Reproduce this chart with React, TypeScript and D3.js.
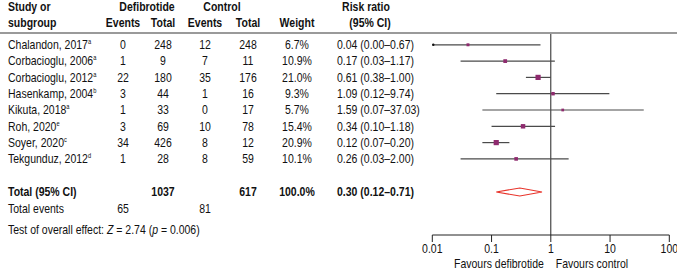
import React from "react";
import * as d3 from "d3";

const studies = ["Chalandon, 2017", "Corbacioglu, 2006", "Corbacioglu, 2012", "Hasenkamp, 2004", "Kikuta, 2018", "Roh, 2020", "Soyer, 2020", "Tekgunduz, 2012"];
const sups = ["a", "a", "a", "b", "a", "e", "c", "d"];
const defEvents = [0, 1, 22, 3, 1, 3, 34, 1];
const defTotal = [248, 9, 180, 44, 33, 69, 426, 28];
const ctlEvents = [12, 7, 35, 1, 0, 10, 8, 8];
const ctlTotal = [248, 11, 176, 16, 17, 78, 12, 59];
const weights = [6.7, 10.9, 21.0, 9.3, 5.7, 15.4, 20.9, 10.1];
const rr = [0.04, 0.17, 0.61, 1.09, 1.59, 0.34, 0.12, 0.26];
const rrLo = [0.0, 0.03, 0.38, 0.12, 0.07, 0.1, 0.07, 0.03];
const rrHi = [0.67, 1.17, 1.0, 9.74, 37.03, 1.18, 0.2, 2.0];
const totalRR = [0.3, 0.12, 0.71];
const totalDefTotal = 1037;
const totalCtlTotal = 617;
const totalWeight = "100.0%";
const totalDefEvents = 65;
const totalCtlEvents = 81;
const ticks = [0.01, 0.1, 1, 10, 100];

const FONT = "'Liberation Sans', Arial, Helvetica, sans-serif";
const SX = 0.875;

function T(props: { x: number; y: number; anchor?: string; bold?: boolean; children: React.ReactNode }) {
  return (
    <text
      transform={`translate(${props.x},${props.y}) scale(${SX},1)`}
      textAnchor={props.anchor || "start"}
      fontWeight={props.bold ? "bold" : "normal"}
    >
      {props.children}
    </text>
  );
}

export default function App() {
  const W = 677, H = 276;
  const x = d3.scaleLog().domain([0.01, 100]).range([432.3, 669.3]);
  const rowY = d3.scaleLinear().domain([0, 1]).range([44.8, 61.1]);
  const size = d3.scaleSqrt().domain([0, 21]).range([0, 5.2]);
  const fmt = (v: number) => v.toFixed(2);
  const axisY = 235;
  const totalY = 192;
  const colX = { study: 8, de: 123, dt: 163, ce: 205, ct: 248, w: 297, rr: 337 };
  const clamp = (v: number) => Math.max(0.01, Math.min(100, v));
  const diamond = d3.line<[number, number]>()([
    [x(totalRR[1]), totalY],
    [x(totalRR[0]), totalY - 4],
    [x(totalRR[2]), totalY],
    [x(totalRR[0]), totalY + 4],
    [x(totalRR[1]), totalY],
  ]) as string;
  const base = 4.3;

  return (
    <svg width={W} height={H} style={{ position: "absolute", left: 0, top: 0, background: "#fff" }} fontFamily={FONT} fontSize={12} fill="#111">
      {/* headers */}
      <T x={colX.study} y={11} bold>Study or</T>
      <T x={colX.study} y={27} bold>subgroup</T>
      <T x={147} y={11} anchor="middle" bold>Defibrotide</T>
      <T x={222} y={11} anchor="middle" bold>Control</T>
      <T x={colX.de} y={27} anchor="middle" bold>Events</T>
      <T x={colX.dt} y={27} anchor="middle" bold>Total</T>
      <T x={colX.ce} y={27} anchor="middle" bold>Events</T>
      <T x={colX.ct} y={27} anchor="middle" bold>Total</T>
      <T x={colX.w} y={27} anchor="middle" bold>Weight</T>
      <T x={366} y={11} anchor="middle" bold>Risk ratio</T>
      <T x={370} y={27} anchor="middle" bold>(95% CI)</T>
      <line x1={0} x2={W} y1={33} y2={33} stroke="#9a9a9a" strokeWidth={2} />

      {/* vertical reference line */}
      <line x1={x(1)} x2={x(1)} y1={34} y2={axisY} stroke="#222" strokeWidth={1} />

      {studies.map((s, i) => {
        const y = rowY(i);
        const ty = y + base;
        const sz = size(weights[i]);
        return (
          <g key={s}>
            <T x={colX.study} y={ty}>
              {s}
              <tspan fontSize={6.5} dy={-5}>{sups[i]}</tspan>
            </T>
            <T x={colX.de} y={ty} anchor="middle">{defEvents[i]}</T>
            <T x={colX.dt} y={ty} anchor="middle">{defTotal[i]}</T>
            <T x={colX.ce} y={ty} anchor="middle">{ctlEvents[i]}</T>
            <T x={colX.ct} y={ty} anchor="middle">{ctlTotal[i]}</T>
            <T x={colX.w} y={ty} anchor="middle">{weights[i].toFixed(1)}%</T>
            <T x={colX.rr} y={ty}>{`${fmt(rr[i])} (${fmt(rrLo[i])}–${fmt(rrHi[i])})`}</T>
            <line x1={x(clamp(rrLo[i]))} x2={x(clamp(rrHi[i]))} y1={y} y2={y} stroke="#4a4a4a" strokeWidth={1.2} />
            {rrLo[i] < 0.01 && <circle cx={x(0.01) + 1} cy={y} r={1.2} fill="#111" />}
            <rect x={x(rr[i]) - sz / 2} y={y - sz / 2} width={sz} height={sz} fill="#8e2a6e" />
          </g>
        );
      })}

      {/* total */}
      <T x={colX.study} y={totalY + base} bold>Total (95% CI)</T>
      <T x={colX.dt} y={totalY + base} anchor="middle" bold>{totalDefTotal}</T>
      <T x={colX.ct} y={totalY + base} anchor="middle" bold>{totalCtlTotal}</T>
      <T x={colX.w} y={totalY + base} anchor="middle" bold>{totalWeight}</T>
      <T x={colX.rr} y={totalY + base} bold>{`${fmt(totalRR[0])} (${fmt(totalRR[1])}–${fmt(totalRR[2])})`}</T>
      <path d={diamond} fill="#fff" stroke="#e8332a" strokeWidth={1.2} />
      <T x={colX.study} y={209 + base}>Total events</T>
      <T x={colX.de} y={209 + base} anchor="middle">{totalDefEvents}</T>
      <T x={colX.ce} y={209 + base} anchor="middle">{totalCtlEvents}</T>
      <T x={colX.study} y={230 + base}>
        Test of overall effect: <tspan fontStyle="italic">Z</tspan> = 2.74 (<tspan fontStyle="italic">p</tspan> = 0.006)
      </T>

      {/* axis */}
      <line x1={x(0.01)} x2={x(100)} y1={axisY} y2={axisY} stroke="#222" strokeWidth={1} />
      {ticks.map((t) => (
        <g key={t}>
          <line x1={x(t)} x2={x(t)} y1={axisY} y2={axisY + 7} stroke="#222" strokeWidth={1} />
          <T x={x(t)} y={axisY + 18} anchor="middle">{String(t)}</T>
        </g>
      ))}
      <T x={x(1) - 7} y={267.5} anchor="end">Favours defibrotide</T>
      <T x={x(1) + 5} y={267.5}>Favours control</T>
    </svg>
  );
}
